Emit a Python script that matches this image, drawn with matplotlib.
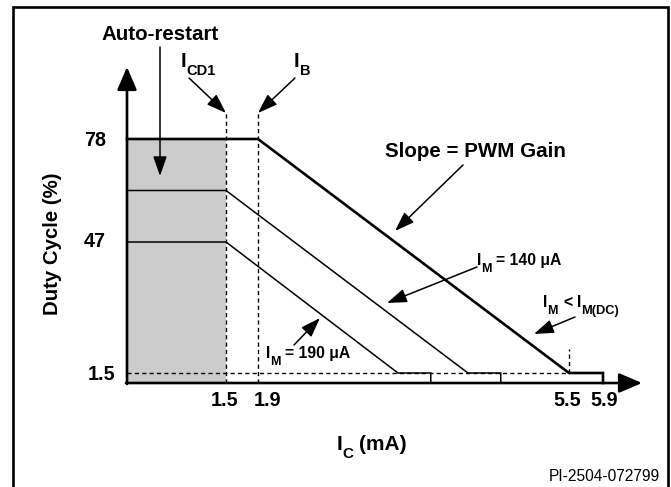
import numpy as np
import matplotlib
matplotlib.use('Agg')
import matplotlib.pyplot as plt
from matplotlib.lines import Line2D

plt.rcParams['font.family'] = ['Liberation Sans', 'DejaVu Sans']

# ---------------- data ----------------
x_ticks = [1.5, 1.9, 5.5, 5.9]
x_tick_labels = ['1.5', '1.9', '5.5', '5.9']
y_ticks = [1.5, 47, 78]
y_tick_labels = ['1.5', '47', '78']

# I_M < I_M(DC) curve (thick)
top_x = [0, 1.9, 5.5, 5.9, 5.9]
top_y = [78, 78, 1.5, 1.5, 0]
# I_M = 140 uA curve
mid_x = [0, 1.5, 4.33, 4.71, 4.71]
mid_y = [62.5, 62.5, 1.5, 1.5, 0]
# I_M = 190 uA curve
low_x = [0, 1.5, 3.52, 3.90, 3.90]
low_y = [47, 47, 1.5, 1.5, 0]

autorestart_x = [0, 1.5]
autorestart_top = 78
i_cd1 = 1.5
i_b = 1.9
i_knee = 5.5
d_min = 1.5
marker_top = 86
knee_marker_top = 9.8
x_max = 6.33
y_max = 100

# schematic (piecewise-linear) axis scales
x_anchor_data = [0, 1.5, 1.9, 5.5, 5.9, 6.33]
x_anchor_pos = [0, 99, 131, 442, 476, 515]
y_anchor_data = [0, 1.5, 47, 78, 100]
y_anchor_pos = [0, 10, 141, 244, 316]


def make_pw(d, p):
    d = np.asarray(d, float)
    p = np.asarray(p, float)

    def f(v):
        v = np.asarray(v, float)
        out = np.interp(v, d, p)
        out = np.where(v < d[0], p[0] + (v - d[0]) * (p[1] - p[0]) / (d[1] - d[0]), out)
        out = np.where(v > d[-1], p[-1] + (v - d[-1]) * (p[-1] - p[-2]) / (d[-1] - d[-2]), out)
        return out
    return f


W, H = 671, 487
fig = plt.figure(figsize=(W / 100, H / 100), dpi=100)
renderer = fig.canvas.get_renderer()


def P(x, y):
    return (x / W, 1 - y / H)


ax = fig.add_axes([127 / W, 1 - 383 / H, 515 / W, 316 / H])
ax.set_xscale('function', functions=(make_pw(x_anchor_data, x_anchor_pos),
                                     make_pw(x_anchor_pos, x_anchor_data)))
ax.set_yscale('function', functions=(make_pw(y_anchor_data, y_anchor_pos),
                                     make_pw(y_anchor_pos, y_anchor_data)))
ax.set_xlim(0, x_max)
ax.set_ylim(0, y_max)
ax.set_axis_off()

# shaded auto-restart region
ax.fill_between(autorestart_x, 0, autorestart_top, color='#cccccc', lw=0, zorder=1)

# dashed guides
dash = (0, (3, 2.3))
ax.plot([i_cd1, i_cd1], [0, marker_top], ls=dash, lw=1.0, color='k', zorder=2, clip_on=False)
ax.plot([i_b, i_b], [0, marker_top], ls=dash, lw=1.0, color='k', zorder=2, clip_on=False)
ax.plot([0, i_knee], [d_min, d_min], ls=dash, lw=1.0, color='k', zorder=2, clip_on=False)
ax.plot([i_knee, i_knee], [d_min, knee_marker_top], ls=dash, lw=1.0, color='k', zorder=2, clip_on=False)

# curves
ax.plot(top_x, top_y, color='k', lw=1.9, zorder=3, clip_on=False, solid_joinstyle='miter')
ax.plot(mid_x, mid_y, color='k', lw=1.1, zorder=3, clip_on=False, solid_joinstyle='miter')
ax.plot(low_x, low_y, color='k', lw=1.1, zorder=3, clip_on=False, solid_joinstyle='miter')

# axes with arrows
axarrow = dict(arrowstyle='-|>,head_length=0.7,head_width=0.3', mutation_scale=20,
               lw=1.9, color='k', shrinkA=0, shrinkB=0)
ax.annotate('', xy=(1, 0), xytext=(-0.002, 0), xycoords='axes fraction',
            textcoords='axes fraction', arrowprops=axarrow, annotation_clip=False)
ax.annotate('', xy=(0, 1), xytext=(0, -0.003), xycoords='axes fraction',
            textcoords='axes fraction', arrowprops=axarrow, annotation_clip=False)

# tick labels
tick_fs = 14.2
x_lab_px = {1.5: 225, 1.9: 268, 5.5: 567, 5.9: 604}
for v, lab in zip(x_ticks, x_tick_labels):
    fig.text(*P(x_lab_px[v], 401), lab, ha='center', va='center', fontsize=tick_fs, fontweight='bold')
y_lab_px = {1.5: (102, 374), 47: (95, 242), 78: (95, 140)}
for v, lab in zip(y_ticks, y_tick_labels):
    fig.text(*P(*y_lab_px[v]), lab, ha='center', va='center', fontsize=tick_fs, fontweight='bold')


def rich(x, y, pieces):
    """pieces: (text, fontsize, baseline shift px, gap after px)"""
    cx = x
    for txt, fs, dy, gap in pieces:
        t = fig.text(*P(cx, y + dy), txt, fontsize=fs, fontweight='bold',
                     ha='left', va='baseline')
        cx += t.get_window_extent(renderer).width + gap


# axis titles
fig.text(*P(53, 244), 'Duty Cycle (%)', rotation=90, ha='center', va='center',
         fontsize=14.7, fontweight='bold')
rich(337, 450, [('I', 15, 0, 0), ('C', 11, 8, 5), ('(mA)', 15, 0, 0)])
fig.text(*P(660, 481), 'PI-2504-072799', ha='right', va='baseline', fontsize=11.2)

# annotations
arr = dict(arrowstyle='-|>,head_length=0.8,head_width=0.28', mutation_scale=15,
           lw=1.1, color='k', shrinkA=0, shrinkB=0)


def arrow(tail, tip):
    ax.annotate('', xy=P(*tip), xytext=P(*tail), xycoords='figure fraction',
                textcoords='figure fraction', arrowprops=arr, annotation_clip=False)


fig.text(*P(160, 34), 'Auto-restart', ha='center', va='center', fontsize=14.8, fontweight='bold')
arrow((160, 47), (160, 176))

rich(181, 67, [('I', 14.5, 0, 0), ('CD1', 10.5, 8, 0)])
arrow((189, 78), (226, 113))

rich(294, 67, [('I', 14.5, 0, 0), ('B', 10.5, 8, 0)])
arrow((295, 78), (258, 113))

fig.text(*P(475, 157), 'Slope = PWM Gain', ha='center', va='baseline', fontsize=14.8, fontweight='bold')
arrow((463, 165), (395, 231))

rich(477, 265, [('I', 11.3, 0, 0), ('M', 9, 7, 4), ('= 140 μA', 11.3, 0, 0)])
arrow((477, 267), (387, 303))

rich(543, 307, [('I', 11.3, 0, 0), ('M', 9, 7, 5), ('<', 11.3, 0, 5),
                ('I', 11.3, 0, 0), ('M(DC)', 9.3, 7, 0)])
arrow((575, 317), (534, 334))

rich(266, 358, [('I', 11.3, 0, 0), ('M', 9, 7, 4), ('= 190 μA', 11.3, 0, 0)])
arrow((294, 345), (320, 318))

# frame (bottom edge lies outside the picture)
fig.add_artist(Line2D([12.5 / W, 12.5 / W, 668 / W, 668 / W], [-0.05, 1 - 7 / H, 1 - 7 / H, -0.05],
                      transform=fig.transFigure, color='k', lw=1.9, solid_joinstyle='miter'))

fig.savefig('out.png', dpi=100)
